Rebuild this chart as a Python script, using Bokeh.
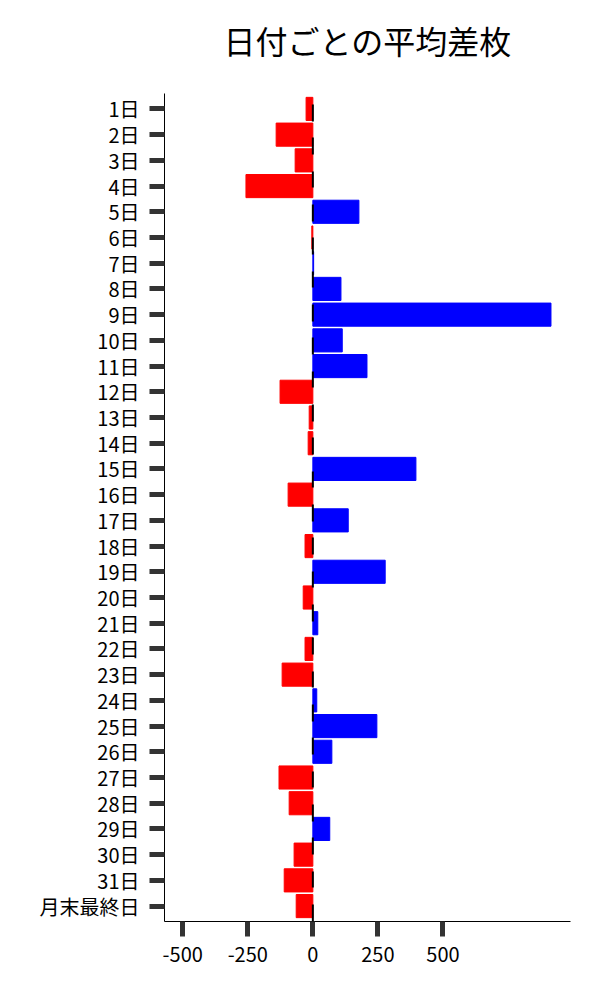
from bokeh.plotting import figure
from bokeh.models import ColumnDataSource, Span, FixedTicker, PrintfTickFormatter, Title
from bokeh.embed import file_html
from bokeh.resources import INLINE

# categories (top to bottom)
days = [f"{i}日" for i in range(1, 32)] + ["月末最終日"]

# average difference per day
diffs = [-26, -141, -68, -257, 177, -4, 3, 108, 915, 113, 208, -126, -14, -18,
         396, -95, 136, -30, 278, -37, 19, -30, -118, 15, 246, 73, -130, -91,
         65, -72, -110, -64]

x_ticks = [-500, -250, 0, 250, 500]

colors = ["#0000ff" if d > 0 else "#ff0000" for d in diffs]
source = ColumnDataSource(data=dict(day=days, diff=diffs, color=colors))

p = figure(width=592, height=992, y_range=list(reversed(days)), x_range=(-570, 990),
           output_backend="svg", toolbar_location=None,
           min_border_left=164, min_border_right=22, min_border_top=93, min_border_bottom=71)

p.hbar(y="day", left=0, right="diff", height=0.9, color="color", source=source)

# dashed zero line
zero = Span(location=0, dimension="height", line_color="black", line_width=2,
            line_dash="17 16 17 17 16 17", line_dash_offset=89)
p.add_layout(zero)

font = "Noto Sans CJK JP"

# empty spacer between frame and title, then the title itself
spacer = Title(text=" ", text_font_size="1px", standoff=28)
p.add_layout(spacer, "above")
title = Title(text="日付ごとの平均差枚", text_font=font, text_font_size="32px",
              text_font_style="normal", text_color="black", align="center", standoff=0)
p.add_layout(title, "above")

# axes styling
for ax in (p.xaxis, p.yaxis):
    ax.major_label_text_font = font
    ax.major_label_text_font_size = "20px"
    ax.major_label_text_color = "black"
    ax.major_tick_in = 0
    ax.major_tick_out = 15
    ax.major_tick_line_width = 5
    ax.major_tick_line_color = "#333333"
    ax.minor_tick_line_color = None
    ax.axis_line_color = "black"
    ax.axis_line_width = 1
    ax.major_label_standoff = 10

p.xaxis.ticker = FixedTicker(ticks=x_ticks)
p.xaxis.formatter = PrintfTickFormatter(format="%d")
p.y_range.range_padding = 0.1
p.y_range.range_padding_units = "absolute"

p.xgrid.grid_line_color = None
p.ygrid.grid_line_color = None
p.outline_line_color = None

open("out.html", "w").write(file_html(p, INLINE))
